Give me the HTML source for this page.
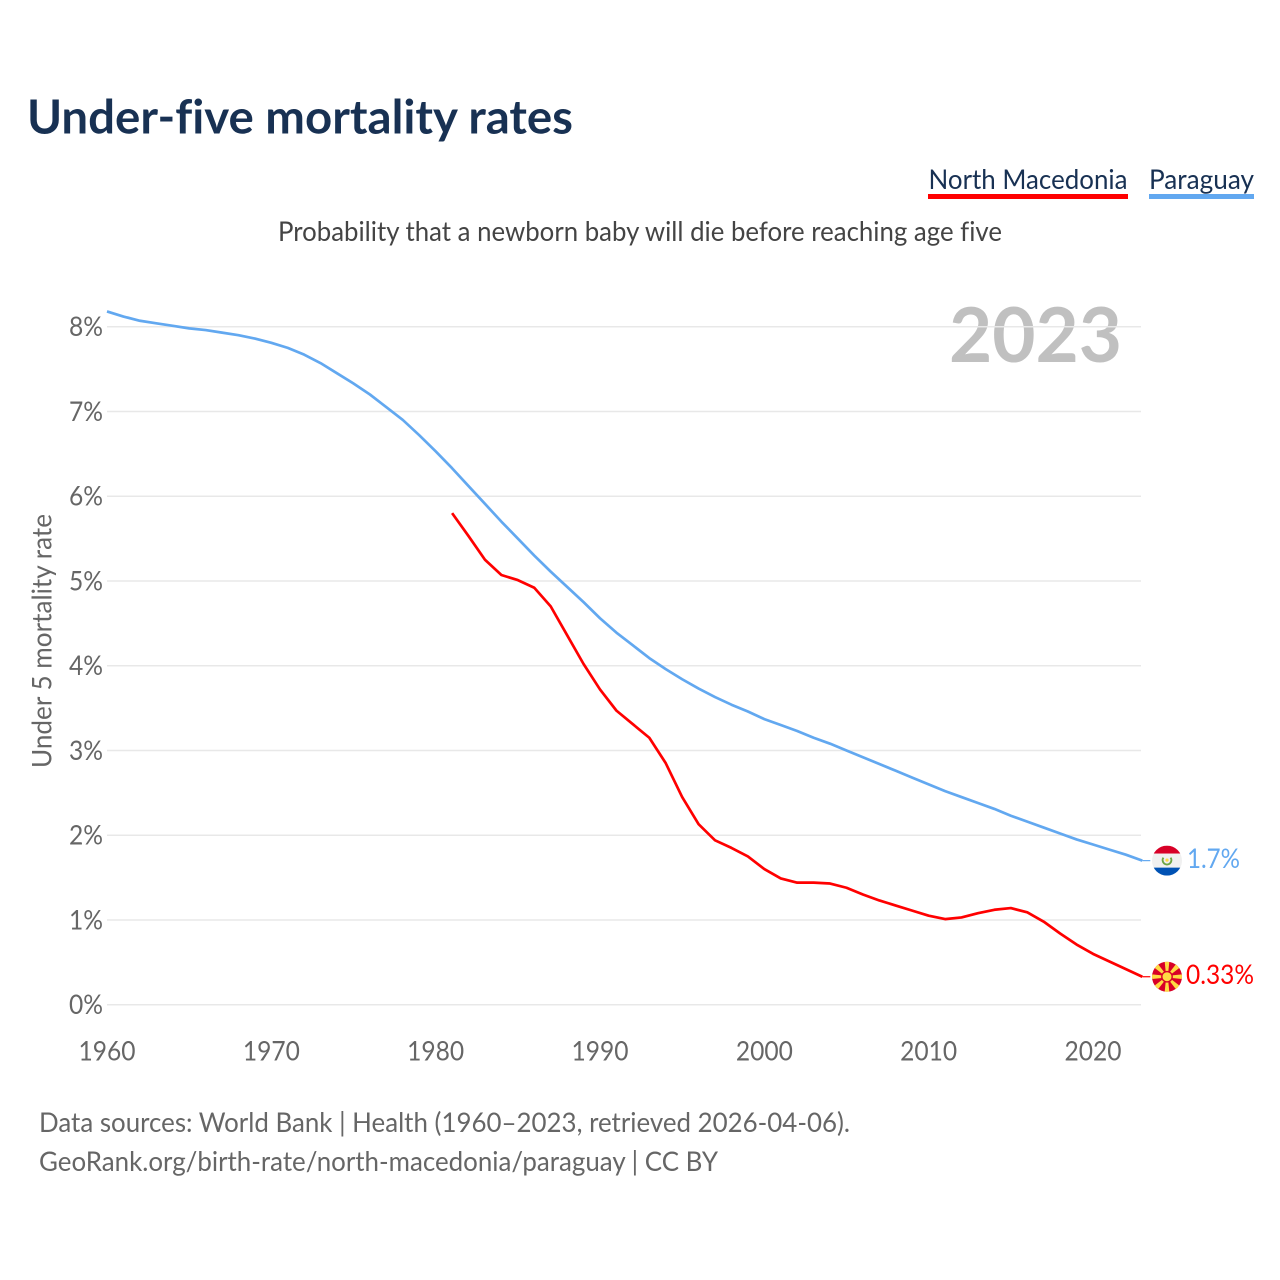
<!DOCTYPE html>
<html lang="en">
<head>
<meta charset="utf-8">
<title>Under-five mortality rates</title>
<style>
html,body{margin:0;padding:0;background:#fff;width:1280px;height:1280px;overflow:hidden}
svg{display:block}
text{font-family:"Lato","Carlito","Liberation Sans",sans-serif;font-variant-ligatures:none}
</style>
</head>
<body>
<svg id="chart" xmlns="http://www.w3.org/2000/svg" width="1280" height="1280" viewBox="0 0 1280 1280">
  <defs>
    <clipPath id="clip-py"><circle cx="0" cy="0" r="15"/></clipPath>
    <clipPath id="clip-mk"><circle cx="0" cy="0" r="15"/></clipPath>
  </defs>
  <rect width="1280" height="1280" fill="#fff"/>
  <text x="27" y="133.5" font-size="47" font-weight="700" fill="#183153" textLength="546" lengthAdjust="spacingAndGlyphs">Under-five mortality rates</text>

  <g style="cursor:pointer">
    <text x="928.5" y="189" font-size="27" fill="#183153" textLength="199" lengthAdjust="spacingAndGlyphs">North Macedonia</text>
    <rect x="928" y="194" width="200" height="5" fill="#ff0000"/>
  </g>
  <g style="cursor:pointer">
    <text x="1149" y="189" font-size="27" fill="#183153" textLength="105" lengthAdjust="spacingAndGlyphs">Paraguay</text>
    <rect x="1149" y="194" width="105" height="5" fill="#62a8f0"/>
  </g>

  <text x="640" y="241" font-size="27" fill="#444" text-anchor="middle" textLength="724" lengthAdjust="spacingAndGlyphs">Probability that a newborn baby will die before reaching age five</text>
  <text x="1122" y="362" font-size="76" font-weight="700" fill="#c0c0c0" text-anchor="end" textLength="173" lengthAdjust="spacingAndGlyphs">2023</text>
  <text transform="translate(51.5 641) rotate(-90)" font-size="27" fill="#666" text-anchor="middle" textLength="254" lengthAdjust="spacingAndGlyphs">Under 5 mortality rate</text>

  <g id="grid"></g>
  <g id="yticks"></g>
  <g id="xticks"></g>
  <g id="series"></g>

  <g id="flag-py">
    <g clip-path="url(#clip-py)">
      <rect x="-15" y="-15" width="30" height="8" fill="#d80027"/>
      <rect x="-15" y="-7" width="30" height="14" fill="#f0f0f0"/>
      <rect x="-15" y="7" width="30" height="8" fill="#0052b4"/>
      <path d="M-3.6 -3A4.4 4.4 0 1 0 3.6 -3" fill="none" stroke="#6da544" stroke-width="1.9"/>
      <circle cx="0" cy="-0.5" r="1.6" fill="#ffda44"/>
    </g>
  </g>
  <g id="flag-mk">
    <g clip-path="url(#clip-mk)">
      <rect x="-15" y="-15" width="30" height="30" fill="#d80027"/>
      <g id="mk-rays" fill="#ffda44"></g>
      <circle cx="0" cy="0" r="5.2" fill="#ffda44" stroke="#d80027" stroke-width="1.4"/>
    </g>
  </g>
  <text id="label-py" font-size="27" fill="#62a8f0" textLength="53" lengthAdjust="spacingAndGlyphs">1.7%</text>
  <text id="label-mk" font-size="27" fill="#ff0000" textLength="68" lengthAdjust="spacingAndGlyphs">0.33%</text>

  <text x="39" y="1132" font-size="27" fill="#666" textLength="811" lengthAdjust="spacingAndGlyphs">Data sources: World Bank | Health (1960–2023, retrieved 2026-04-06).</text>
  <text x="39" y="1171" font-size="27" fill="#666" textLength="679" lengthAdjust="spacingAndGlyphs">GeoRank.org/birth-rate/north-macedonia/paraguay | CC BY</text>
</svg>
<script>
const yearTicks = [1960, 1970, 1980, 1990, 2000, 2010, 2020];
const valueTicks = [0, 1, 2, 3, 4, 5, 6, 7, 8];
const paraguayStartYear = 1960;
const paraguayValues = [8.18, 8.12, 8.07, 8.04, 8.01, 7.98, 7.96, 7.93, 7.90, 7.86, 7.81, 7.75, 7.67, 7.57, 7.45, 7.33, 7.20, 7.05, 6.90, 6.72, 6.53, 6.33, 6.12, 5.91, 5.70, 5.50, 5.30, 5.11, 4.93, 4.75, 4.56, 4.39, 4.24, 4.09, 3.96, 3.84, 3.73, 3.63, 3.54, 3.46, 3.37, 3.30, 3.23, 3.15, 3.08, 3.00, 2.92, 2.84, 2.76, 2.68, 2.60, 2.52, 2.45, 2.38, 2.31, 2.23, 2.16, 2.09, 2.02, 1.95, 1.89, 1.83, 1.77, 1.70];
const macedoniaStartYear = 1981;
const macedoniaValues = [5.80, 5.53, 5.25, 5.07, 5.01, 4.92, 4.70, 4.36, 4.02, 3.72, 3.47, 3.31, 3.15, 2.85, 2.45, 2.13, 1.94, 1.85, 1.75, 1.60, 1.49, 1.44, 1.44, 1.43, 1.38, 1.30, 1.23, 1.17, 1.11, 1.05, 1.01, 1.03, 1.08, 1.12, 1.14, 1.09, 0.98, 0.84, 0.71, 0.60, 0.51, 0.42, 0.33];

const SVGNS = 'http://www.w3.org/2000/svg';
function xScale(year) { return 107 + (year - 1960) * (1093 - 107) / 60; }
function yScale(value) { return 1004.7 - value * 84.75; }
function make(tag, attrs, parent) {
  const el = document.createElementNS(SVGNS, tag);
  for (const k in attrs) el.setAttribute(k, attrs[k]);
  parent.appendChild(el);
  return el;
}
const grid = document.getElementById('grid');
const yticks = document.getElementById('yticks');
const xticks = document.getElementById('xticks');
const seriesGroup = document.getElementById('series');

valueTicks.forEach(function (v) {
  const line = make('line', {x1: 107, x2: 1141, y1: yScale(v), y2: yScale(v), stroke: '#e8e8e8', 'stroke-width': 1.5}, grid);
  
  
  const label = make('text', {x: 103, y: yScale(v) + 9.5, 'font-size': 27, fill: '#666', 'text-anchor': 'end', textLength: 34, lengthAdjust: 'spacingAndGlyphs'}, yticks);
  
  
  label.textContent = v + '%';
});

yearTicks.forEach(function (y) {
  const label = make('text', {x: xScale(y), y: 1060.5, 'font-size': 27, fill: '#666', 'text-anchor': 'middle', textLength: 57, lengthAdjust: 'spacingAndGlyphs'}, xticks);
  
  
  label.textContent = y;
});

function drawSeries(values, startYear, color, name) {
  const pts = values.map(function (v, i) { return xScale(startYear + i).toFixed(2) + ',' + yScale(v).toFixed(2); });
  const last = values[values.length - 1];
  const lastYear = startYear + values.length - 1;
  const line = make('polyline', {points: pts.join(' '), fill: 'none', stroke: color, 'stroke-width': 2.7, 'stroke-linejoin': 'round'}, seriesGroup);
  
  
  const leader = make('line', {x1: xScale(lastYear), x2: xScale(lastYear) + 8, y1: yScale(last), y2: yScale(last), stroke: color, 'stroke-width': 1.2}, seriesGroup);
  
  
  return yScale(last);
}
const pyEnd = drawSeries(paraguayValues, paraguayStartYear, '#62a8f0', 'paraguay-line');
const mkEnd = drawSeries(macedoniaValues, macedoniaStartYear, '#ff0000', 'north-macedonia-line');

document.getElementById('flag-py').setAttribute('transform', 'translate(1167 ' + pyEnd + ')');
document.getElementById('flag-mk').setAttribute('transform', 'translate(1167 ' + mkEnd + ')');
const labelPy = document.getElementById('label-py');
labelPy.setAttribute('x', 1187);
labelPy.setAttribute('y', pyEnd + 7.5);
const labelMk = document.getElementById('label-mk');
labelMk.setAttribute('x', 1186);
labelMk.setAttribute('y', mkEnd + 7.5);

const rays = document.getElementById('mk-rays');
[0, 45, 90, 135, 180, 225, 270, 315].forEach(function (angle) {
  const d = angle % 90 === 0 ? 'M-0.8 0L-2.4 -16L2.4 -16L0.8 0Z' : 'M-0.6 0L-3 -19L3 -19L0.6 0Z';
  const ray = make('path', {d: d, transform: 'rotate(' + angle + ')'}, rays);
  
  
});
</script>
</body>
</html>
